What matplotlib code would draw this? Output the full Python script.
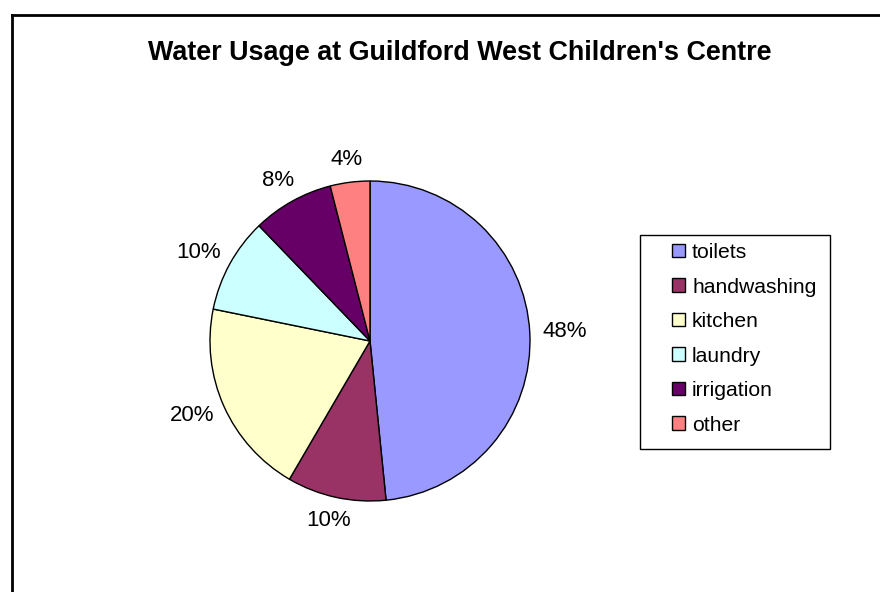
import matplotlib
matplotlib.use("Agg")
import numpy as np
import matplotlib.pyplot as plt
from matplotlib.patches import Rectangle, Patch
from matplotlib.lines import Line2D

plt.rcParams['font.family'] = ['Liberation Sans', 'DejaVu Sans']

title = "Water Usage at Guildford West Children's Centre"
categories = ["toilets", "handwashing", "kitchen", "laundry", "irrigation", "other"]
values = [48.4, 10.0, 19.8, 9.6, 8.2, 4.0]
colors = ["#9999FF", "#993366", "#FFFFCC", "#CCFFFF", "#660066", "#FF8080"]

W, H = 880, 592
fig = plt.figure(figsize=(W / 100, H / 100), dpi=100)

# border lines (top and left)
fig.add_artist(Line2D([11.5 / W, 1.0], [1 - 14.5 / H, 1 - 14.5 / H], color="black", lw=2.0, transform=fig.transFigure))
fig.add_artist(Line2D([11.5 / W, 11.5 / W], [0.0, 1 - 14.5 / H], color="black", lw=2.0, transform=fig.transFigure))

cx, cy, r = 370, 341, 160
ax = fig.add_axes([(cx - r) / W, (H - cy - r) / H, 2 * r / W, 2 * r / H])
wedges, texts, autotexts = ax.pie(
    values, colors=colors, startangle=90, counterclock=False,
    autopct='%.0f%%', pctdistance=1.2,
    wedgeprops=dict(edgecolor="black", linewidth=1.0),
    textprops=dict(fontsize=16, color="black"),
)
ax.set_xlim(-1, 1)
ax.set_ylim(-1, 1)
ax.set_aspect("equal")
ax.axis("off")

# place percentage labels Excel-style: box corner near an anchor just outside the rim
renderer = fig.canvas.get_renderer()
px_per_unit = r  # one data unit = r pixels
for w, t in zip(wedges, autotexts):
    ang = np.deg2rad((w.theta1 + w.theta2) / 2)
    ax_, ay_ = 1.08 * np.cos(ang), 1.08 * np.sin(ang)
    t.set_ha("center")
    t.set_va("center")
    bb = t.get_window_extent(renderer)
    tw, th = bb.width / px_per_unit, bb.height / px_per_unit
    t.set_position((ax_ + tw / 2 * np.cos(ang), ay_ + th / 2 * np.sin(ang)))

fig.text(460 / W, 1 - 53 / H, title, ha="center", va="center", fontsize=19.4, fontweight="bold")

# legend frame
lx0, ly0, lx1, ly1 = 639.5, 235.5, 829.5, 448.5
fig.add_artist(Rectangle((lx0 / W, 1 - ly1 / H), (lx1 - lx0) / W, (ly1 - ly0) / H,
                         transform=fig.transFigure, fill=False, edgecolor="black", lw=1.0))
handles = [Patch(facecolor=c, edgecolor="black", linewidth=1.0) for c in colors]
leg = fig.legend(handles, categories, loc="upper left",
                 bbox_to_anchor=(672 / W, 1 - 243 / H), frameon=False,
                 fontsize=15.2, handlelength=0.6, handleheight=0.6,
                 handletextpad=0.35, labelspacing=0.735, borderpad=0, borderaxespad=0)

fig.savefig("out.png", dpi=100)
